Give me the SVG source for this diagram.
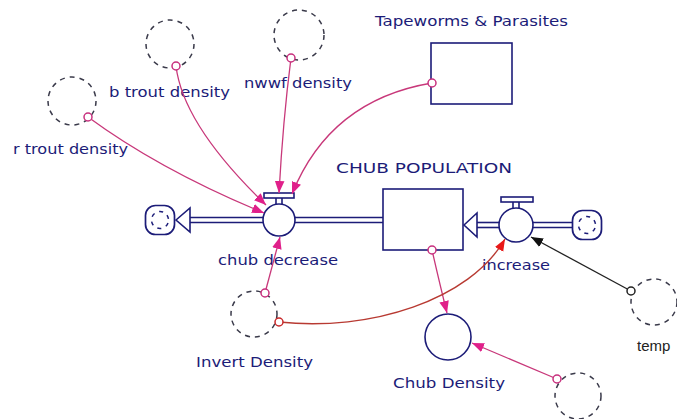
<svg xmlns="http://www.w3.org/2000/svg" xmlns:xlink="http://www.w3.org/1999/xlink" width="677" height="419" viewBox="0 0 677 419">
  <style>
    .lbl { font-family: "DejaVu Sans", "Liberation Sans", sans-serif; font-size: 14px; fill: #1c1c78; }
    .blk { font-family: "Liberation Sans", "DejaVu Sans", sans-serif; font-size: 15px; fill: #222; }
    .shape { fill: #fff; stroke: #1c1c78; stroke-width: 1.6; }
    .aux { fill: none; stroke: #3a3a4a; stroke-width: 1.5; stroke-dasharray: 5 5; }
    .pipe { stroke: #1c1c78; stroke-width: 1.6; fill: none; }
    .link { fill: none; stroke: #c8387a; stroke-width: 1.3; }
    .link-red { fill: none; stroke: #b83a32; stroke-width: 1.4; }
    .link-blk { fill: none; stroke: #222; stroke-width: 1.3; }
    .tail { fill: #fff; stroke: #c8307e; stroke-width: 1.5; }
  </style>
  <defs>
    <marker id="arr" viewBox="0 0 10 8" refX="10" refY="4" markerWidth="12" markerHeight="10" markerUnits="userSpaceOnUse" orient="auto">
      <path d="M0,0 L10,4 L0,8 Z" fill="#e0208a"/>
    </marker>
    <marker id="arr-red" viewBox="0 0 10 8" refX="10" refY="4" markerWidth="12" markerHeight="10" markerUnits="userSpaceOnUse" orient="auto">
      <path d="M0,0 L10,4 L0,8 Z" fill="#e81818"/>
    </marker>
    <marker id="arr-blk" viewBox="0 0 10 8" refX="10" refY="4" markerWidth="12" markerHeight="10" markerUnits="userSpaceOnUse" orient="auto">
      <path d="M0,0 L10,4 L0,8 Z" fill="#111"/>
    </marker>
    <!-- source / sink cloud: rounded outline with broken inner ring -->
    <g id="cloud">
      <rect x="-14.5" y="-14.5" width="29" height="29" rx="10" fill="#fff" stroke="#1c1c78" stroke-width="1.7"/>
      <circle r="8.5" fill="none" stroke="#1c1c78" stroke-width="1.5" stroke-dasharray="4 5" transform="rotate(20)"/>
    </g>
  </defs>

  <rect width="677" height="419" fill="#fff"/>

  <!-- flow pipes -->
  <g id="pipes">
    <line class="pipe" x1="190" y1="217.5" x2="263" y2="217.5"/>
    <line class="pipe" x1="190" y1="222.5" x2="263" y2="222.5"/>
    <line class="pipe" x1="295" y1="217.5" x2="383" y2="217.5"/>
    <line class="pipe" x1="295" y1="222.5" x2="383" y2="222.5"/>
    <line class="pipe" x1="477" y1="222.5" x2="500" y2="222.5"/>
    <line class="pipe" x1="477" y1="227.5" x2="500" y2="227.5"/>
    <line class="pipe" x1="532" y1="222.5" x2="573" y2="222.5"/>
    <line class="pipe" x1="532" y1="227.5" x2="573" y2="227.5"/>
  </g>

  <!-- sink cloud and outflow arrowhead -->
  <g id="sink">
    <use xlink:href="#cloud" x="160" y="220"/>
    <polygon class="shape" points="176,220 190,208 190,232"/>
  </g>

  <!-- source cloud -->
  <g id="source">
    <use xlink:href="#cloud" x="587" y="225"/>
  </g>

  <!-- stock: CHUB POPULATION -->
  <g id="chub-population">
    <rect class="shape" x="383" y="189" width="80" height="61"/>
    <polygon class="shape" points="464,225 477,213 477,237"/>
    <text class="lbl" x="336" y="173" textLength="176" lengthAdjust="spacingAndGlyphs">CHUB POPULATION</text>
  </g>

  <!-- stock: Tapeworms & Parasites -->
  <g id="tapeworms">
    <rect class="shape" x="431" y="43" width="81" height="61"/>
    <text class="lbl" x="375" y="26" textLength="193" lengthAdjust="spacingAndGlyphs">Tapeworms &amp; Parasites</text>
  </g>

  <!-- flow: chub decrease -->
  <g id="chub-decrease">
    <rect class="shape" x="264" y="193" width="30" height="5"/>
    <line class="pipe" x1="276" y1="198" x2="276" y2="205"/>
    <line class="pipe" x1="282" y1="198" x2="282" y2="205"/>
    <circle class="shape" cx="279" cy="220" r="16"/>
    <text class="lbl" x="218" y="265" textLength="120" lengthAdjust="spacingAndGlyphs">chub decrease</text>
  </g>

  <!-- flow: increase -->
  <g id="increase">
    <rect class="shape" x="501" y="197" width="32" height="5"/>
    <line class="pipe" x1="513" y1="202" x2="513" y2="209"/>
    <line class="pipe" x1="519" y1="202" x2="519" y2="209"/>
    <circle class="shape" cx="516" cy="225" r="17"/>
    <text class="lbl" x="482" y="270" textLength="68" lengthAdjust="spacingAndGlyphs">increase</text>
  </g>

  <!-- converter: Chub Density -->
  <g id="chub-density">
    <circle class="shape" cx="448" cy="337" r="23"/>
    <text class="lbl" x="393" y="388" textLength="112" lengthAdjust="spacingAndGlyphs">Chub Density</text>
  </g>

  <!-- ghost converters -->
  <g id="r-trout-density">
    <circle class="aux" cx="72" cy="101" r="24"/>
    <text class="lbl" x="13" y="154" textLength="115" lengthAdjust="spacingAndGlyphs">r trout density</text>
  </g>
  <g id="b-trout-density">
    <circle class="aux" cx="170" cy="44" r="24"/>
    <text class="lbl" x="109" y="97" textLength="121" lengthAdjust="spacingAndGlyphs">b trout density</text>
  </g>
  <g id="nwwf-density">
    <circle class="aux" cx="299" cy="35" r="25"/>
    <text class="lbl" x="244" y="88" textLength="108" lengthAdjust="spacingAndGlyphs">nwwf density</text>
  </g>
  <g id="invert-density">
    <circle class="aux" cx="254" cy="314" r="23"/>
    <text class="lbl" x="196" y="367" textLength="117" lengthAdjust="spacingAndGlyphs">Invert Density</text>
  </g>
  <g id="temp">
    <circle class="aux" cx="654" cy="302" r="23"/>
    <text class="blk" x="637" y="351">temp</text>
  </g>
  <g id="chub-density-ghost">
    <circle class="aux" cx="578" cy="396" r="23"/>
  </g>

  <!-- action connectors -->
  <g id="connectors">
    <path class="link" d="M88,117 Q160,170 264,213" marker-end="url(#arr)"/>
    <path class="link" d="M176,66 Q183,125 266,205" marker-end="url(#arr)"/>
    <path class="link" d="M291,58 Q283,120 279,193" marker-end="url(#arr)"/>
    <path class="link" d="M432,83 Q330,100 292,194" marker-end="url(#arr)"/>
    <path class="link" d="M265,293 L280,237" marker-end="url(#arr)"/>
    <path class="link" d="M432,250 Q440,285 447,313" marker-end="url(#arr)"/>
    <path class="link-red" d="M279,322 C370,332 470,300 505,239" marker-end="url(#arr-red)"/>
    <path class="link-blk" d="M631,291 L531,237" marker-end="url(#arr-blk)"/>
    <path class="link" d="M557,379 L472,343" marker-end="url(#arr)"/>

    <circle class="tail" cx="88" cy="117" r="4"/>
    <circle class="tail" cx="176" cy="66" r="4"/>
    <circle class="tail" cx="291" cy="58" r="4"/>
    <circle class="tail" cx="432" cy="83" r="4"/>
    <circle class="tail" cx="265" cy="293" r="4"/>
    <circle class="tail" cx="432" cy="250" r="4"/>
    <circle class="tail" cx="279" cy="322" r="4" style="stroke:#c8282a"/>
    <circle class="tail" cx="631" cy="291" r="4" style="stroke:#222"/>
    <circle class="tail" cx="557" cy="379" r="4"/>
  </g>
</svg>
